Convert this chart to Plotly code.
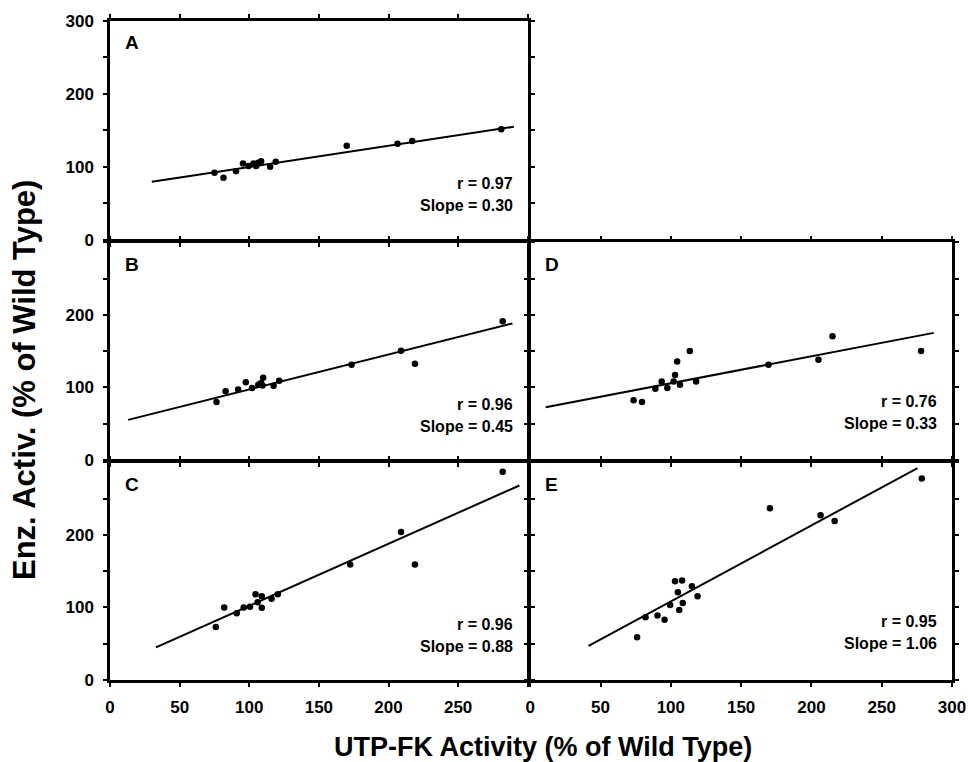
import plotly.graph_objects as go

# ---- data ----
panel_names = ["A", "B", "C", "D", "E"]

xA = [75, 81.5, 90.5, 95.5, 99.5, 103, 105, 106.5, 108.5, 115, 119, 170, 206.5, 217, 281]
yA = [92, 85, 94, 104.5, 101, 104.5, 101, 105.5, 107.5, 100, 107, 129, 131.5, 135.5, 151.5]
fitA_x = [30, 290]
fitA_y = [79.5, 155]

xB = [76.5, 83, 92, 97.5, 102, 106.5, 108.5, 110, 109.5, 117.5, 121.5, 173.5, 209, 219, 282]
yB = [79.5, 94.5, 97, 107, 99, 103.5, 106, 113, 102.5, 102, 109, 131, 150.5, 132.5, 191]
fitB_x = [13, 289]
fitB_y = [55, 188]

xC = [76, 82, 91, 96, 100.5, 104.5, 106, 109, 109, 116, 120.5, 172.5, 209, 219, 282]
yC = [73, 100, 92, 100, 101, 118, 107, 115.5, 99.5, 112, 118, 159, 204, 159, 287]
fitC_x = [33, 294]
fitC_y = [45, 268]

xD = [73.5, 79.5, 89, 93.5, 97.5, 102, 103, 104.5, 106.5, 113.5, 118, 169.5, 205, 215, 278]
yD = [82, 79.5, 98, 108, 99, 108, 117, 135.5, 103.5, 150, 108, 131, 138, 170.5, 150]
fitD_x = [11, 287]
fitD_y = [72.5, 175]

xE = [76, 82, 90.5, 95.5, 99.5, 103, 105, 106, 108, 108.5, 115, 119, 170.5, 206.5, 216.5, 278.5]
yE = [59, 86.5, 89, 83, 103.5, 136, 121, 96.5, 137, 106, 129, 115.5, 236.5, 227, 219, 277.5]
fitE_x = [41.5, 275.5]
fitE_y = [47, 292]

r_values = ["0.97", "0.96", "0.96", "0.76", "0.95"]
slopes = ["0.30", "0.45", "0.88", "0.33", "1.06"]

x_tick_vals = [0, 50, 100, 150, 200, 250, 300]
y_tick_vals = [0, 50, 100, 150, 200, 250, 300]

x_title = "UTP-FK Activity (% of Wild Type)"
y_title = "Enz. Activ. (% of Wild Type)"

# ---- layout geometry ----
W, H = 968, 762
LW = 2.5
def px_x(p):
    return p / W
def px_y(p):
    return 1 - p / H

g = LW / 2
left_dom = [px_x(110), px_x(529 - g)]
right_dom = [px_x(529 + g), px_x(952)]
rowA = [px_y(241 - g), px_y(21)]
rowB = [px_y(461 - g), px_y(241 + g)]
rowC = [px_y(680), px_y(461 + g)]

panels = [
    ("A", xA, yA, fitA_x, fitA_y, left_dom, rowA, False, "all"),
    ("B", xB, yB, fitB_x, fitB_y, left_dom, rowB, False, "no300"),
    ("C", xC, yC, fitC_x, fitC_y, left_dom, rowC, "left", "no300"),
    ("D", xD, yD, fitD_x, fitD_y, right_dom, rowB, False, "none"),
    ("E", xE, yE, fitE_x, fitE_y, right_dom, rowC, "right", "none"),
]

FONT = "Liberation Sans, Arial, sans-serif"
fig = go.Figure()
layout = dict(
    width=W, height=H,
    margin=dict(l=0, r=0, t=0, b=0, pad=0, autoexpand=False),
    paper_bgcolor="white", plot_bgcolor="white",
    showlegend=False,
    font=dict(family=FONT, color="black"),
)
annotations = []

for i, (name, xs, ys, fx, fy, xdom, ydom, xlab, ylab) in enumerate(panels):
    n = i + 1
    xa = "x" if n == 1 else f"x{n}"
    ya = "y" if n == 1 else f"y{n}"
    fig.add_trace(go.Scatter(x=fx, y=fy, mode="lines", xaxis=xa, yaxis=ya,
                             line=dict(color="black", width=2), hoverinfo="skip"))
    fig.add_trace(go.Scatter(x=xs, y=ys, mode="markers", xaxis=xa, yaxis=ya,
                             marker=dict(color="black", size=6.5)))
    if xlab == "left":
        xtext = ["0", "50", "100", "150", "200", "250", ""]
    elif xlab == "right":
        xtext = ["0", "50", "100", "150", "200", "250", "300"]
    else:
        xtext = [""] * 7
    if ylab == "all":
        ytext = ["0", "", "100", "", "200", "", "300"]
    elif ylab == "no300":
        ytext = ["0", "", "100", "", "200", "", ""]
    else:
        ytext = [""] * 7
    layout[f"xaxis{'' if n == 1 else n}"] = dict(
        domain=xdom, range=[0, 300], anchor=ya, automargin=False,
        showline=True, linecolor="black", linewidth=LW, mirror="ticks",
        ticks="outside", ticklen=4, tickwidth=2, tickcolor="black",
        tickvals=x_tick_vals, ticktext=xtext, showticklabels=bool(xlab),
        showgrid=False, zeroline=False, ticklabelstandoff=6,
        tickfont=dict(family=FONT, size=17, color="black", weight="bold"),
    )
    layout[f"yaxis{'' if n == 1 else n}"] = dict(
        domain=ydom, range=[0, 300], anchor=xa, automargin=False,
        showline=True, linecolor="black", linewidth=LW, mirror="ticks",
        ticks="outside", ticklen=4, tickwidth=2, tickcolor="black",
        tickvals=y_tick_vals, ticktext=ytext, showticklabels=(ylab != "none"),
        showgrid=False, zeroline=False, ticklabelstandoff=6,
        tickfont=dict(family=FONT, size=17, color="black", weight="bold"),
    )
    annotations.append(dict(
        xref=f"{xa} domain", yref=f"{ya} domain", x=0.03, y=0.9,
        xanchor="left", yanchor="middle", showarrow=False, text=name,
        font=dict(family=FONT, size=19, color="black", weight="bold")))
    ry = 0.255 if xdom is left_dom else 0.268
    annotations.append(dict(
        xref=f"{xa} domain", yref=f"{ya} domain", x=0.969, y=ry,
        xanchor="right", yanchor="middle", showarrow=False,
        text=f"r = {r_values[i]}",
        font=dict(family=FONT, size=16, color="black", weight="bold")))
    annotations.append(dict(
        xref=f"{xa} domain", yref=f"{ya} domain", x=0.969, y=ry - 0.1,
        xanchor="right", yanchor="middle", showarrow=False,
        text=f"Slope = {slopes[i]}",
        font=dict(family=FONT, size=16, color="black", weight="bold")))

annotations.append(dict(
    xref="paper", yref="paper", x=px_x(543), y=px_y(747),
    xanchor="center", yanchor="middle", showarrow=False, text=x_title,
    font=dict(family=FONT, size=27, color="black", weight="bold")))
annotations.append(dict(
    xref="paper", yref="paper", x=px_x(24), y=px_y(380),
    xanchor="center", yanchor="middle", showarrow=False, text=y_title,
    textangle=-90,
    font=dict(family=FONT, size=31, color="black", weight="bold")))

layout["annotations"] = annotations
fig.update_layout(**layout)
fig.write_html(
    "out.html",
    config={"displayModeBar": False},
    post_script=(
        "document.body.style.margin='0';"
        "document.body.style.overflow='hidden';"
        "document.documentElement.style.overflow='hidden';"
    ),
)
